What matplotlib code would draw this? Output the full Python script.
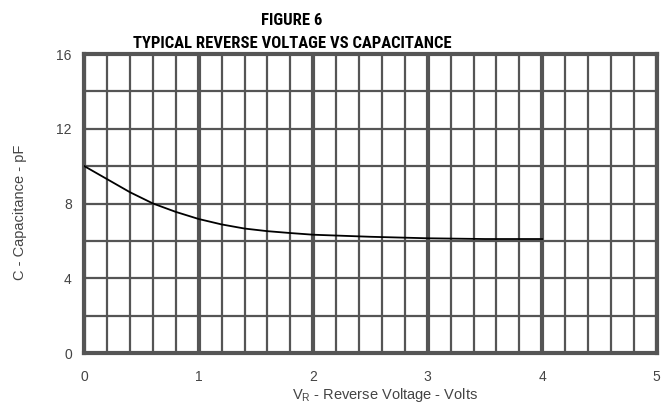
import matplotlib
matplotlib.use("Agg")
import matplotlib.pyplot as plt
import numpy as np
from matplotlib.ticker import MultipleLocator

voltage = [0.0, 0.2, 0.4, 0.6, 0.8, 1.0, 1.2, 1.4, 1.6, 1.8, 2.0, 2.5, 3.0, 3.5, 4.0]
capacitance = [10.0, 9.3, 8.6, 8.0, 7.55, 7.17, 6.88, 6.66, 6.52, 6.42, 6.33, 6.22, 6.14, 6.1, 6.1]

xticks = [0, 1, 2, 3, 4, 5]
yticks = [0, 4, 8, 12, 16]

plt.rcParams["font.family"] = ["Liberation Sans", "DejaVu Sans"]

fig = plt.figure(figsize=(6.64, 4.03), dpi=100)
ax = fig.add_axes([0.127, 0.124, 0.862, 0.742])
ax.set_xlim(0, 5)
ax.set_ylim(0, 16)

grid_color = "#555555"
ax.xaxis.set_minor_locator(MultipleLocator(0.2))
ax.yaxis.set_minor_locator(MultipleLocator(2))
ax.set_xticks(xticks)
ax.set_yticks(yticks)
ax.grid(which="minor", axis="both", color=grid_color, linewidth=1.6)
ax.grid(which="major", axis="x", color=grid_color, linewidth=3.0)
ax.grid(which="major", axis="y", color=grid_color, linewidth=1.6)
ax.tick_params(which="both", length=0, labelsize=10, colors="#444444", pad=12)
ax.tick_params(axis="y", pad=9)
for s in ax.spines.values():
    s.set_color(grid_color)
    s.set_linewidth(3.0)
ax.set_axisbelow(True)

ax.plot(voltage, capacitance, color="black", linewidth=1.3, zorder=5)

ax.set_xlabel("V$_\\mathregular{R}$ - Reverse Voltage - Volts", fontsize=10.5, color="#444444", labelpad=2)
ax.xaxis.set_label_coords(0.525, -0.11)
ax.set_ylabel("C - Capacitance - pF", fontsize=10.5, color="#444444")
ax.yaxis.set_label_coords(-0.1, 0.47)

tf = ["Roboto Condensed", "Liberation Sans", "DejaVu Sans"]
fig.text(0.44, 0.948, "FIGURE 6", ha="center", va="center", fontsize=12, fontweight="bold", family=tf)
fig.text(0.44, 0.893, "TYPICAL REVERSE VOLTAGE VS CAPACITANCE", ha="center", va="center", fontsize=12, fontweight="bold", family=tf)

fig.savefig("out.png", dpi=100)
